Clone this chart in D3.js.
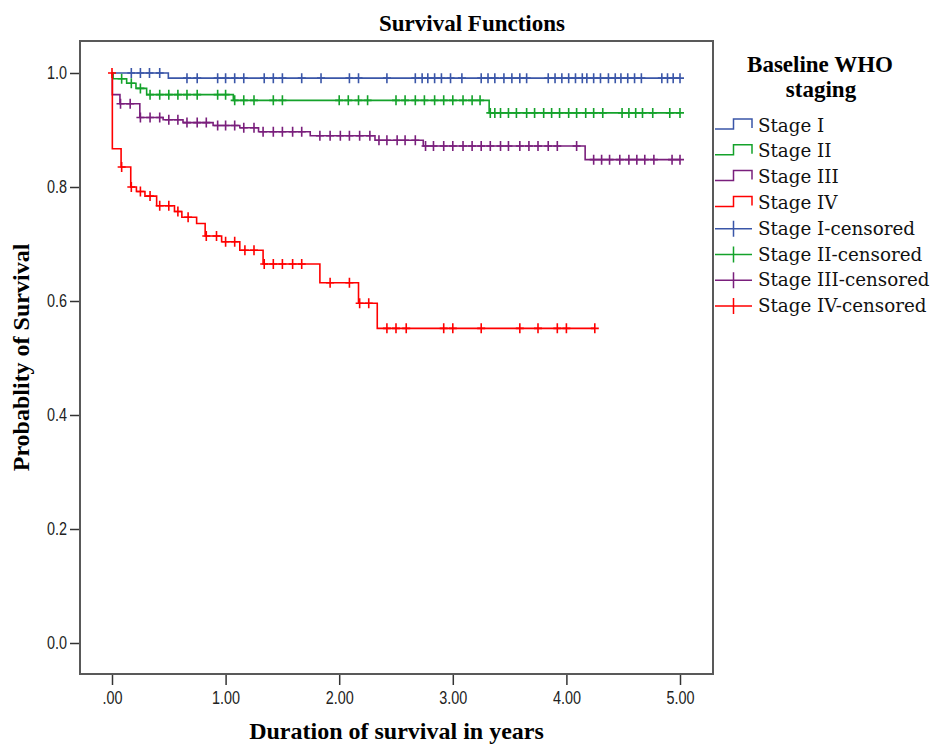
<!DOCTYPE html>
<html>
<head>
<meta charset="utf-8">
<script src="https://cdn.jsdelivr.net/npm/d3@7"></script>
<style>
  body { margin: 0; background: #fff; }
  svg { display: block; }
</style>
</head>
<body>
<svg id="chart" width="930" height="744"></svg>
<script>
// Axis ticks
const xTickValues = [0, 1, 2, 3, 4, 5];
const xTickLabels = [".00", "1.00", "2.00", "3.00", "4.00", "5.00"];
const yTickValues = [0, 0.2, 0.4, 0.6, 0.8, 1.0];
const yTickLabels = ["0.0", "0.2", "0.4", "0.6", "0.8", "1.0"];

const stageNames = ["Stage I", "Stage II", "Stage III", "Stage IV"];

// Kaplan-Meier estimates: [event time in years, survival after the event]
const stageISteps = [[0, 1.0], [0.496, 0.991]];
const stageIISteps = [[0, 1.0], [0.01, 0.990], [0.129, 0.982], [0.211, 0.973], [0.305, 0.962],
  [1.068, 0.952], [3.32, 0.930]];
const stageIIISteps = [[0, 1.0], [0.003, 0.962], [0.07, 0.946], [0.245, 0.922], [0.45, 0.918],
  [0.625, 0.913], [0.89, 0.908], [1.125, 0.904], [1.29, 0.897], [1.745, 0.890], [2.315, 0.882],
  [2.74, 0.872], [4.165, 0.848]];
const stageIVSteps = [[0, 1.0], [0.003, 0.867], [0.08, 0.835], [0.165, 0.800], [0.215, 0.792],
  [0.29, 0.784], [0.393, 0.767], [0.55, 0.757], [0.615, 0.747], [0.745, 0.736], [0.82, 0.714],
  [0.965, 0.704], [1.125, 0.689], [1.33, 0.665], [1.83, 0.632], [2.17, 0.596], [2.335, 0.552]];

// Censoring times (years)
const stageICensored = [0.17, 0.25, 0.33, 0.42, 0.66, 0.75, 0.93, 1.00, 1.08, 1.16, 1.34, 1.42,
  1.50, 1.67, 1.84, 2.09, 2.17, 2.42, 2.67, 2.73, 2.78, 2.84, 2.90, 2.98, 3.08, 3.25, 3.31, 3.37,
  3.45, 3.52, 3.59, 3.65, 3.84, 3.90, 3.96, 4.02, 4.08, 4.14, 4.18, 4.24, 4.30, 4.37, 4.43, 4.48,
  4.54, 4.60, 4.66, 4.84, 4.89, 4.94, 5.00];
const stageIICensored = [0.085, 0.17, 0.25, 0.335, 0.42, 0.50, 0.58, 0.66, 0.75, 0.93, 1.00,
  1.08, 1.16, 1.25, 1.42, 1.50, 2.00, 2.08, 2.17, 2.25, 2.50, 2.58, 2.67, 2.75, 2.84, 2.92, 3.00,
  3.09, 3.17, 3.24, 3.33, 3.37, 3.42, 3.49, 3.56, 3.65, 3.72, 3.80, 3.87, 3.94, 4.02, 4.09, 4.17,
  4.24, 4.32, 4.49, 4.55, 4.61, 4.67, 4.76, 4.91, 5.00];
const stageIIICensored = [0.075, 0.16, 0.25, 0.335, 0.42, 0.50, 0.58, 0.66, 0.75, 0.83, 0.93,
  1.00, 1.08, 1.16, 1.25, 1.33, 1.42, 1.50, 1.59, 1.67, 1.83, 1.92, 2.01, 2.09, 2.18, 2.27, 2.35,
  2.42, 2.51, 2.58, 2.67, 2.76, 2.83, 2.92, 3.00, 3.09, 3.17, 3.25, 3.33, 3.42, 3.49, 3.59, 3.67,
  3.75, 3.84, 3.92, 4.09, 4.24, 4.31, 4.38, 4.47, 4.55, 4.62, 4.69, 4.77, 4.93, 5.00];
const stageIVCensored = [0, 0.085, 0.17, 0.25, 0.335, 0.42, 0.50, 0.58, 0.67, 0.83, 0.92, 1.00,
  1.08, 1.17, 1.25, 1.34, 1.42, 1.50, 1.59, 1.67, 1.92, 2.09, 2.18, 2.26, 2.42, 2.50, 2.59, 2.92,
  3.00, 3.25, 3.59, 3.75, 3.92, 4.00, 4.25];

// Last follow-up time for each stage
const followUpEnd = [5.0, 5.0, 5.0, 4.25];

const stageColors = ["#3a56a8", "#14a22b", "#7a1f7c", "#ff0000"];

const series = stageNames.map((name, i) => ({
  name,
  steps: [stageISteps, stageIISteps, stageIIISteps, stageIVSteps][i],
  censored: [stageICensored, stageIICensored, stageIIICensored, stageIVCensored][i],
  end: followUpEnd[i],
  color: stageColors[i]
}));

const svg = d3.select("#chart");
svg.append("rect").attr("width", 930).attr("height", 744).attr("fill", "#fff");

const frame = { left: 80, top: 41, right: 713, bottom: 674 };
const x = d3.scaleLinear().domain([0, 5]).range([112, 680]);
const y = d3.scaleLinear().domain([0, 1]).range([643, 73]);

const serifBold = "'Liberation Serif', 'Times New Roman', serif";

// Chart title
svg.append("text")
  .attr("x", 472).attr("y", 31)
  .attr("text-anchor", "middle")
  .style("font-family", serifBold).style("font-weight", "bold").style("font-size", "23px")
  .text("Survival Functions");

// Plot frame
svg.append("rect")
  .attr("x", frame.left).attr("y", frame.top)
  .attr("width", frame.right - frame.left).attr("height", frame.bottom - frame.top)
  .attr("fill", "none").attr("stroke", "#595959").attr("stroke-width", 2);

// Narrow tick labels: squeeze the regular sans to a condensed width
function narrowLabels(sel) {
  sel.selectAll(".tick text")
    .style("font-family", "'Liberation Sans', Arial, sans-serif")
    .style("font-size", "18px")
    .attr("fill", "#222")
    .each(function () {
      const w = this.getComputedTextLength();
      d3.select(this).attr("textLength", w * 0.8).attr("lengthAdjust", "spacingAndGlyphs");
    });
  sel.selectAll(".tick line").attr("stroke", "#333").attr("stroke-width", 1.5);
}

const gx = svg.append("g")
  .attr("transform", `translate(0,${frame.bottom + 1})`)
  .call(d3.axisBottom(x).tickValues(xTickValues)
    .tickFormat((d, i) => xTickLabels[i]).tickSize(10).tickPadding(6));
gx.select(".domain").remove();
narrowLabels(gx);

const gy = svg.append("g")
  .attr("transform", `translate(${frame.left - 1},0)`)
  .call(d3.axisLeft(y).tickValues(yTickValues)
    .tickFormat((d, i) => yTickLabels[i]).tickSize(9).tickPadding(3));
gy.select(".domain").remove();
narrowLabels(gy);

// Axis titles
svg.append("text")
  .attr("x", (frame.left + frame.right) / 2).attr("y", 739)
  .attr("text-anchor", "middle")
  .style("font-family", serifBold).style("font-weight", "bold").style("font-size", "24px")
  .text("Duration of survival in years");

svg.append("text")
  .attr("transform", `translate(29,${(frame.top + frame.bottom) / 2}) rotate(-90)`)
  .attr("text-anchor", "middle")
  .style("font-family", serifBold).style("font-weight", "bold").style("font-size", "24px")
  .text("Probablity of Survival");

// Survival curves
function survivalAt(steps, t) {
  let s = steps[0][1];
  for (const [tt, ss] of steps) if (tt <= t) s = ss;
  return s;
}

const line = d3.line()
  .x(d => x(d[0]))
  .y(d => y(d[1]))
  .curve(d3.curveStepAfter);

const plot = svg.append("g");
series.forEach(s => {
  const pts = s.steps.concat([[s.end, s.steps[s.steps.length - 1][1]]]);
  plot.append("path")
    .attr("d", line(pts))
    .attr("fill", "none")
    .attr("stroke", s.color)
    .attr("stroke-width", 1.6);

  plot.selectAll(null)
    .data(s.censored)
    .join("path")
    .attr("transform", t => `translate(${x(t)},${y(survivalAt(s.steps, t))})`)
    .attr("d", "M-4,0H4M0,-5V5")
    .attr("fill", "none")
    .attr("stroke", s.color)
    .attr("stroke-width", 1.6);
});

// Legend
const legend = svg.append("g");
legend.append("text")
  .attr("x", 820).attr("y", 72)
  .attr("text-anchor", "middle")
  .style("font-family", serifBold).style("font-weight", "bold").style("font-size", "23px")
  .text("Baseline WHO");
legend.append("text")
  .attr("x", 821).attr("y", 97)
  .attr("text-anchor", "middle")
  .style("font-family", serifBold).style("font-weight", "bold").style("font-size", "23px")
  .text("staging");

const legendItems = series.map(s => ({ label: s.name, color: s.color, type: "step" }))
  .concat(series.map(s => ({ label: s.name + "-censored", color: s.color, type: "cross" })));

legendItems.forEach((item, i) => {
  const b = 131.5 + i * 25.8;
  const d = item.type === "step"
    ? `M715,${b - 2.5}H733.5V${b - 12.5}H752V${b - 3.5}`
    : `M715,${b - 6}H752M733.5,${b - 14}V${b + 2}`;
  legend.append("path")
    .attr("d", d)
    .attr("fill", "none")
    .attr("stroke", item.color)
    .attr("stroke-width", 1.5);
  legend.append("text")
    .attr("x", 758).attr("y", b)
    .style("font-family", "'DejaVu Serif', serif")
    .style("font-size", "18.3px")
    .attr("fill", "#111")
    .text(item.label);
});
</script>
</body>
</html>
